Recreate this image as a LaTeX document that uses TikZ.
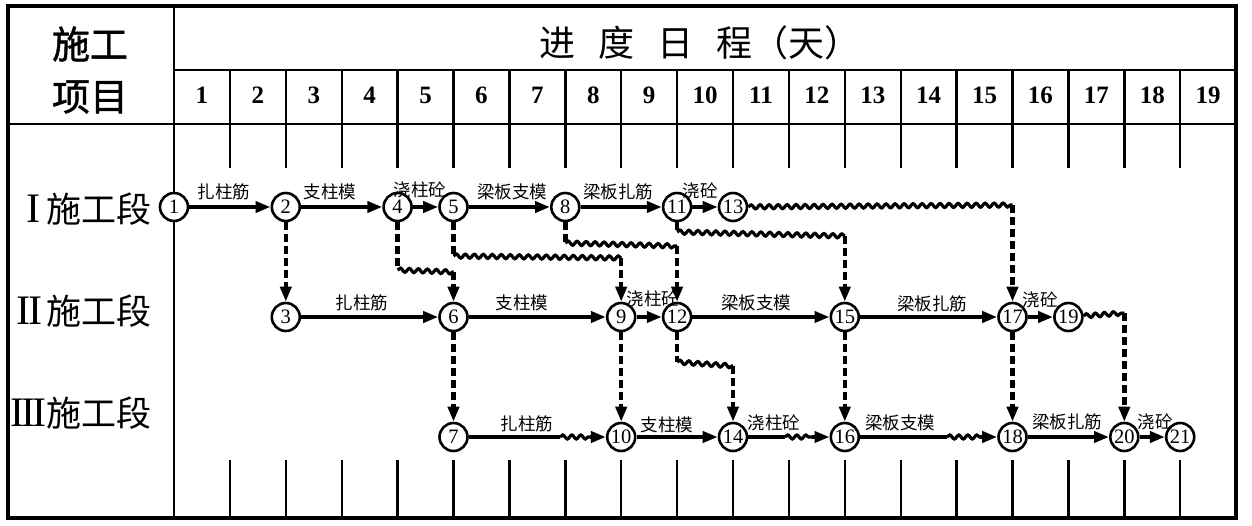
\documentclass[tikz,border=0pt]{standalone}
\usepackage{fontspec}
\setmainfont{Liberation Serif}
\newfontfamily\cjk{Noto Sans CJK SC}
\newfontfamily\cjkb[FakeBold=1.2]{Noto Sans CJK SC}
\usetikzlibrary{arrows.meta,decorations.pathmorphing}
\begin{document}
\begin{tikzpicture}[x=1pt,y=-1pt,
  outer/.style={line width=4pt},
  gridline/.style={line width=2.4pt},
  ev/.style={circle,draw,line width=2.6pt,fill=white,minimum size=28pt,inner sep=0pt,font=\fontsize{20.5}{20.5}\selectfont},
  work/.style={line width=4pt,-{Triangle[length=15pt,width=11pt]}},
  workline/.style={line width=4pt},
  dep/.style={line width=4.5pt,dash pattern=on 8pt off 4pt},
  deparr/.style={dep,-{Triangle[length=15pt,width=11pt]}},
  wavy/.style={line width=3.2pt,decorate,decoration={snake,segment length=9pt,amplitude=2pt}},
  lab/.style={font=\cjk\fontsize{17.5}{18}\selectfont,inner sep=0pt},
  daynum/.style={font=\bfseries\fontsize{25}{25}\selectfont,inner sep=0pt},
  rowlab/.style={anchor=east,inner sep=0pt},
  head/.style={font=\cjkb\fontsize{38}{38}\selectfont,inner sep=0pt},
]
\useasboundingbox (0,0) rectangle (1252,525);
% table
\draw[outer] (8,6) rectangle (1236,518);
\draw[gridline] (174,6) -- (174,518);
\draw[gridline] (174,70) -- (1236,70);
\draw[gridline] (8,124) -- (1236,124);
\foreach \d in {1,...,18} {
  \draw[gridline] ({174+55.9*\d},70) -- ({174+55.9*\d},168);
  \draw[gridline] ({174+55.9*\d},460) -- ({174+55.9*\d},518);
}
\foreach \d in {1,...,19}
  \node[daynum] (day\d) at ({174+55.9*(\d-0.5)},95) {\d};
\node[head] (h1) at (90,44) {施工};
\node[head] (h2) at (90,97) {项目};
\node[head,font=\cjk\fontsize{36}{36}\selectfont] (title) at (700,43) {进\hspace{23pt}度\hspace{23pt}日\hspace{23pt}程（天）};
% row labels
\node[rowlab] (r1) at (152,209) {{\fontsize{42}{42}\selectfont I}\hspace{6pt}{\cjk\fontsize{35}{35}\selectfont 施工段}};
\node[rowlab] (r2) at (152,311) {{\fontsize{42}{42}\selectfont I\kern-2pt I}\hspace{4pt}{\cjk\fontsize{35}{35}\selectfont 施工段}};
\node[rowlab] (r3) at (152,413) {{\fontsize{42}{42}\selectfont I\kern-3pt I\kern-3pt I}{\cjk\fontsize{35}{35}\selectfont 施工段}};
% events
\node[ev] (n1) at (174,207) {1};
\node[ev] (n2) at (285.8,207) {2};
\node[ev] (n4) at (397.6,207) {4};
\node[ev] (n5) at (453.5,207) {5};
\node[ev] (n8) at (565.3,207) {8};
\node[ev] (n11) at (677.1,207) {11};
\node[ev] (n13) at (733,207) {13};
\node[ev] (n3) at (285.8,317) {3};
\node[ev] (n6) at (453.5,317) {6};
\node[ev] (n9) at (621.2,317) {9};
\node[ev] (n12) at (677.1,317) {12};
\node[ev] (n15) at (844.8,317) {15};
\node[ev] (n17) at (1012.5,317) {17};
\node[ev] (n19) at (1068.4,317) {19};
\node[ev] (n7) at (453.5,437) {7};
\node[ev] (n10) at (621.2,437) {10};
\node[ev] (n14) at (733,437) {14};
\node[ev] (n16) at (844.8,437) {16};
\node[ev] (n18) at (1012.5,437) {18};
\node[ev] (n20) at (1124.3,437) {20};
\node[ev] (n21) at (1180.2,437) {21};
% helper coordinates
\coordinate (w7a) at (560,437);
\coordinate (w7b) at (590,437);
\coordinate (w14a) at (785,437);
\coordinate (w14b) at (812,437);
\coordinate (w16a) at (947,437);
\coordinate (w16b) at (980,437);
\coordinate (d4a) at (397.6,270);
\coordinate (d4b) at (453.5,272);
\coordinate (d5a) at (453.5,256);
\coordinate (d5b) at (621.2,258);
\coordinate (d8a) at (565.3,243);
\coordinate (d8b) at (677.1,246);
\coordinate (d11a) at (677.1,232);
\coordinate (d11b) at (844.8,236);
\coordinate (d13b) at (1012.5,205);
\coordinate (d12a) at (677.1,362);
\coordinate (d12b) at (733,366);
\coordinate (d19b) at (1124.3,313);
% row I works
\draw[work] (n1) -- (n2);
\draw[work] (n2) -- (n4);
\draw[work] (n4) -- (n5);
\draw[work] (n5) -- (n8);
\draw[work] (n8) -- (n11);
\draw[work] (n11) -- (n13);
% row II works
\draw[work] (n3) -- (n6);
\draw[work] (n6) -- (n9);
\draw[work] (n9) -- (n12);
\draw[work] (n12) -- (n15);
\draw[work] (n15) -- (n17);
\draw[work] (n17) -- (n19);
% row III works
\draw[workline] (n7) -- (w7a);
\draw[wavy] (w7a) -- (w7b);
\draw[work] (w7b) -- (n10);
\draw[work] (n10) -- (n14);
\draw[workline] (n14) -- (w14a);
\draw[wavy] (w14a) -- (w14b);
\draw[work] (w14b) -- (n16);
\draw[workline] (n16) -- (w16a);
\draw[wavy] (w16a) -- (w16b);
\draw[work] (w16b) -- (n18);
\draw[work] (n18) -- (n20);
\draw[work] (n20) -- (n21);
% dependencies
\draw[deparr] (n2) -- (n3);
\draw[deparr] (n6) -- (n7);
\draw[deparr] (n9) -- (n10);
\draw[deparr] (n15) -- (n16);
\draw[deparr] (n17) -- (n18);
\draw[dep] (n4) -- (d4a);
\draw[wavy] (d4a) -- (d4b);
\draw[deparr] (d4b) -- (n6);
\draw[dep] (n5) -- (d5a);
\draw[wavy] (d5a) -- (d5b);
\draw[deparr] (d5b) -- (n9);
\draw[dep] (n8) -- (d8a);
\draw[wavy] (d8a) -- (d8b);
\draw[deparr] (d8b) -- (n12);
\draw[dep] (n11) -- (d11a);
\draw[wavy] (d11a) -- (d11b);
\draw[deparr] (d11b) -- (n15);
\draw[wavy] (n13) -- (d13b);
\draw[deparr] (d13b) -- (n17);
\draw[dep] (n12) -- (d12a);
\draw[wavy] (d12a) -- (d12b);
\draw[deparr] (d12b) -- (n14);
\draw[wavy] (n19) -- (d19b);
\draw[deparr] (d19b) -- (n20);
% labels
\node[lab] (t1) at (224,192) {扎柱筋};
\node[lab] (t2) at (330,192) {支柱模};
\node[lab] (t3) at (420,190) {浇柱砼};
\node[lab] (t4) at (512,192) {梁板支模};
\node[lab] (t5) at (618,192) {梁板扎筋};
\node[lab] (t6) at (700,191) {浇砼};
\node[lab] (t7) at (362,303) {扎柱筋};
\node[lab] (t8) at (522,303) {支柱模};
\node[lab] (t9) at (653,299) {浇柱砼};
\node[lab] (t10) at (756,303) {梁板支模};
\node[lab] (t11) at (932,304) {梁板扎筋};
\node[lab] (t12) at (1040,300) {浇砼};
\node[lab] (t13) at (527,424) {扎柱筋};
\node[lab] (t14) at (667,425) {支柱模};
\node[lab] (t15) at (774,423) {浇柱砼};
\node[lab] (t16) at (900,423) {梁板支模};
\node[lab] (t17) at (1067,422) {梁板扎筋};
\node[lab] (t18) at (1155,422) {浇砼};
\end{tikzpicture}
\end{document}
